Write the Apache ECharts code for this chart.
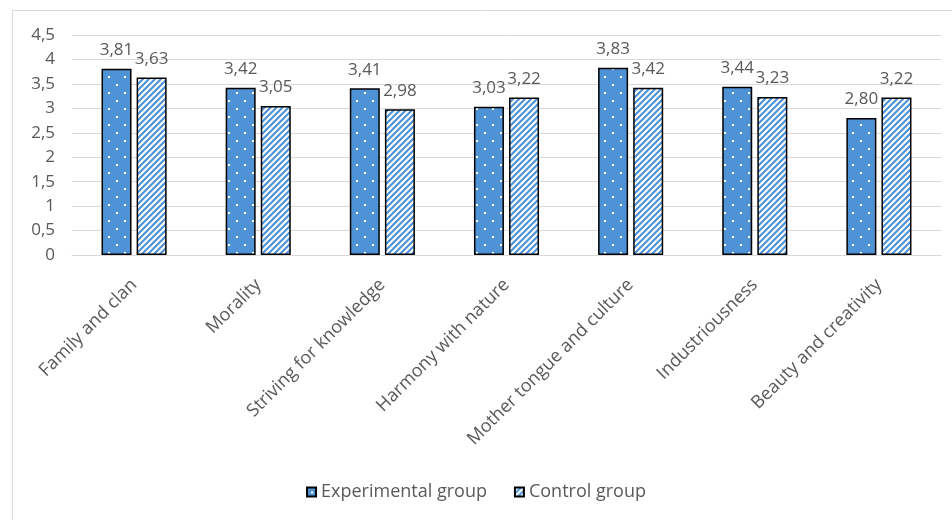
<!DOCTYPE html>
<html>
<head>
<meta charset="utf-8">
<script src="https://cdn.jsdelivr.net/npm/echarts@6/dist/echarts.min.js"></script>
<style>html,body{margin:0;padding:0;background:#fff}#c{width:952px;height:520px}</style>
</head>
<body>
<div id="c"></div>
<script>
const categories = ["Family and clan","Morality","Striving for knowledge","Harmony with nature","Mother tongue and culture","Industriousness","Beauty and creativity"];
const experimental = [3.81,3.42,3.41,3.03,3.83,3.44,2.80];
const control = [3.63,3.05,2.98,3.22,3.42,3.23,3.22];
const seriesNames = ["Experimental group","Control group"];

const BLUE = '#4F93D6';
function dotPattern(){
  const c = document.createElement('canvas'); c.width = 16; c.height = 16;
  const g = c.getContext('2d');
  g.fillStyle = BLUE; g.fillRect(0,0,16,16);
  g.fillStyle = '#ffffff';
  g.fillRect(4,4,2,2); g.fillRect(12,12,2,2);
  return c;
}
function stripePattern(){
  const c = document.createElement('canvas'); c.width = 6; c.height = 6;
  const g = c.getContext('2d');
  g.fillStyle = '#ffffff'; g.fillRect(0,0,6,6);
  g.strokeStyle = BLUE; g.lineWidth = 2.2;
  g.beginPath();
  g.moveTo(-1,7); g.lineTo(7,-1);
  g.moveTo(-4,4); g.lineTo(4,-4);
  g.moveTo(2,10); g.lineTo(10,2);
  g.stroke();
  return c;
}
const fmt = v => v.toFixed(2).replace('.', ',');
const txt = '#595959';
const font = "'Open Sans', sans-serif";

const chart = echarts.init(document.getElementById('c'), null, {renderer:'canvas'});
chart.setOption({
  animation: false,
  textStyle: {fontFamily: font},
  graphic: [{type:'rect', shape:{x:12.5,y:10.5,width:960,height:540}, style:{fill:'none', stroke:'#d9d9d9', lineWidth:1}, silent:true}],
  grid: {left:72, right:11, top:35, bottom:265, containLabel:false},
  legend: {
    bottom: 14, left: 'center', itemWidth: 9, itemHeight: 9, itemGap: 27,
    icon: 'rect',
    textStyle: {color: txt, fontSize: 18, fontFamily: font},
    data: seriesNames
  },
  xAxis: {
    type: 'category', data: categories,
    axisLine: {lineStyle:{color:'#d9d9d9'}},
    axisTick: {show:false},
    axisLabel: {rotate: 45, color: txt, fontSize: 18, margin: 27, interval: 0}
  },
  yAxis: {
    type: 'value', min: 0, max: 4.5, interval: 0.5,
    axisLine: {show:false}, axisTick: {show:false},
    splitLine: {lineStyle:{color:'#d9d9d9'}},
    axisLabel: {color: txt, fontSize: 17, margin: 17, formatter: v => String(v).replace('.', ',')}
  },
  series: [
    {
      name: seriesNames[0], type: 'bar', data: experimental,
      barWidth: 30, barGap: '17%',
      itemStyle: {color: {image: dotPattern(), repeat: 'repeat'}, borderColor: '#000', borderWidth: 1.5},
      label: {show: true, position: 'top', distance: 10, color: txt, fontSize: 17, formatter: p => fmt(p.value)}
    },
    {
      name: seriesNames[1], type: 'bar', data: control,
      barWidth: 30,
      itemStyle: {color: {image: stripePattern(), repeat: 'repeat'}, borderColor: '#000', borderWidth: 1.5},
      label: {show: true, position: 'top', distance: 10, color: txt, fontSize: 17, formatter: p => fmt(p.value)}
    }
  ]
});
</script>
</body>
</html>
